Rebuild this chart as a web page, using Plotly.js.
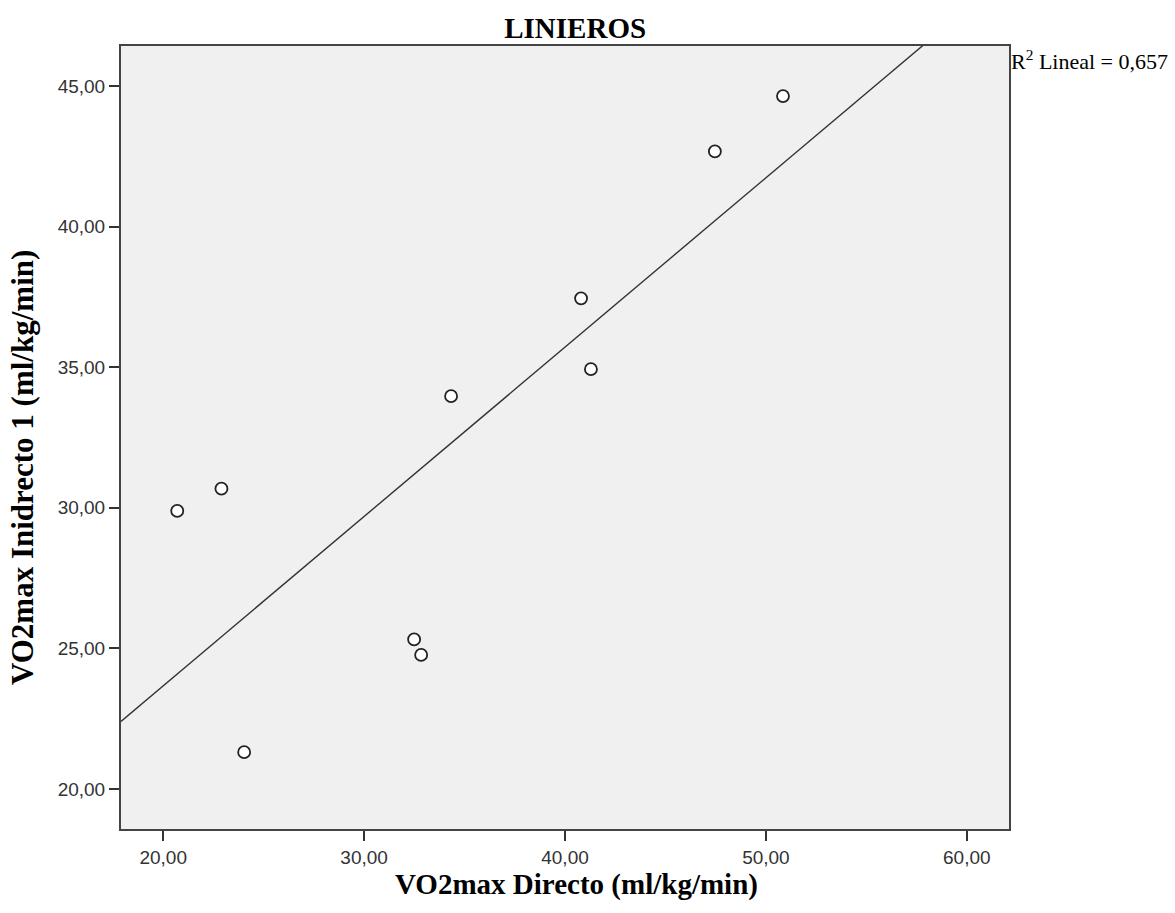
<!DOCTYPE html>
<html>
<head>
<meta charset="utf-8">
<script src="https://cdn.plot.ly/plotly-3.0.1.min.js"></script>
<style>html,body{margin:0;padding:0;background:#fff;}#chart{width:1175px;height:913px;}</style>
</head>
<body>
<div id="chart"></div>
<script>
const vo2Directo = [20.7, 22.9, 24.03, 32.49, 32.84, 34.33, 40.8, 41.29, 47.46, 50.85];
const vo2Indirecto = [29.89, 30.68, 21.31, 25.32, 24.77, 33.97, 37.45, 34.93, 42.67, 44.64];
const xTicks = [20, 30, 40, 50, 60];
const yTicks = [20, 25, 30, 35, 40, 45];
const r2Label = "0,657";
const xRange = [17.9, 62.1];
const yRange = [18.58, 46.42];

// least squares fit
const n = vo2Directo.length;
const mx = vo2Directo.reduce((a,b)=>a+b,0)/n;
const my = vo2Indirecto.reduce((a,b)=>a+b,0)/n;
let sxy=0, sxx=0;
for (let i=0;i<n;i++){ sxy += (vo2Directo[i]-mx)*(vo2Indirecto[i]-my); sxx += (vo2Directo[i]-mx)**2; }
const slope = sxy/sxx, intercept = my - slope*mx;
const fitX = [xRange[0], xRange[1]];
const fitY = fitX.map(x => intercept + slope*x);

const serif = 'Liberation Serif, Times New Roman, serif';
const axisCommon = {
  showgrid:false, zeroline:false, showline:true, mirror:true,
  linecolor:'#444', linewidth:2, ticks:'outside', ticklen:10, tickwidth:2, tickcolor:'#333',
  tickformat:'.2f', tickfont:{family:'Liberation Sans, Arial, sans-serif', size:19, color:'#333'}
};

const data = [
  {x: fitX, y: fitY, mode:'lines', line:{color:'#333', width:1.4}, hoverinfo:'skip', showlegend:false},
  {x: vo2Directo, y: vo2Indirecto, mode:'markers', showlegend:false,
   marker:{symbol:'circle', size:12, color:'#fff', line:{color:'#222', width:1.8}}}
];

const layout = {
  width:1175, height:913,
  margin:{l:121, r:166, t:46, b:84},
  paper_bgcolor:'#fff', plot_bgcolor:'#f0f0f0',
  separators:',.',
  title:{text:'<b>LINIEROS</b>', x:0.4895, xanchor:'center', y:0.970, yanchor:'middle',
    font:{family:serif, size:29, color:'#000'}},
  xaxis: Object.assign({}, axisCommon, {range:xRange, tickvals:xTicks}),
  yaxis: Object.assign({}, axisCommon, {range:yRange, tickvals:yTicks}),
  annotations:[
    {xref:'paper', yref:'paper', x:1, y:1, xanchor:'left', yanchor:'top', xshift:0, yshift:2,
     text:'R<sup>2</sup> Lineal = ' + r2Label, showarrow:false,
     font:{family:serif, size:22, color:'#000'}},
    {xref:'paper', yref:'paper', x:0.5135, y:0, xanchor:'center', yanchor:'middle', yshift:-55,
     text:'<b>VO2max Directo (ml/kg/min)</b>', showarrow:false,
     font:{family:serif, size:29, color:'#000'}},
    {xref:'paper', yref:'paper', x:0, y:0.461, xanchor:'center', yanchor:'middle', xshift:-99,
     textangle:-90, text:'<b>VO2max Inidrecto 1 (ml/kg/min)</b>', showarrow:false,
     font:{family:serif, size:31, color:'#000'}}
  ]
};

Plotly.newPlot('chart', data, layout, {displayModeBar:false, staticPlot:true});
</script>
</body>
</html>
